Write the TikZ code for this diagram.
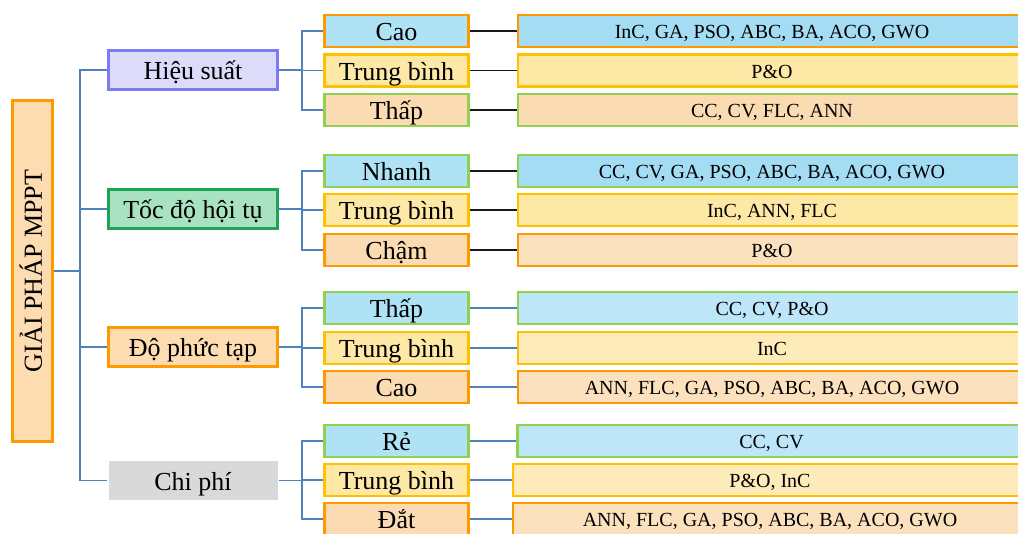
\documentclass[tikz,border=0pt]{standalone}
\usepackage{fontspec}
\setmainfont{Liberation Serif}
\definecolor{cblue}{HTML}{4F81BD}
\definecolor{lavfill}{HTML}{DCDCFA}
\definecolor{lavline}{HTML}{7B7BF5}
\definecolor{grnfill}{HTML}{A8E2C1}
\definecolor{grnline}{HTML}{1EA45A}
\definecolor{rootfill}{HTML}{FCDCB0}
\definecolor{orng}{HTML}{FF9900}
\definecolor{greyfill}{HTML}{D9D9D9}
\definecolor{blueA}{HTML}{B0E2F6}
\definecolor{blueB}{HTML}{A4DCF4}
\definecolor{blueC}{HTML}{BDE7F8}
\definecolor{yelA}{HTML}{FDE8A6}
\definecolor{yelB}{HTML}{FEEBBA}
\definecolor{peachA}{HTML}{FBDBB2}
\definecolor{peachB}{HTML}{FCE1BF}
\definecolor{gold}{HTML}{FFC000}
\definecolor{lgreen}{HTML}{92D050}
\begin{document}
\begin{tikzpicture}[x=0.75pt,y=-0.75pt,
  box/.style={rectangle, inner sep=0pt, align=center},
  rootbox/.style={box, line width=2.2pt, draw=orng, fill=rootfill,
    minimum width=30pt, minimum height=255.75pt},
  lone/.style={box, line width=2.2pt, minimum width=126.75pt, minimum height=29.25pt,
    font=\fontsize{19.5}{22}\selectfont, text height=14.5pt, text depth=0pt},
  ltwo/.style={box, line width=2pt, minimum width=108pt, minimum height=24pt,
    font=\fontsize{19.5}{22}\selectfont, text height=14.5pt, text depth=0pt},
  lthree/.style={box, line width=2pt, minimum width=381pt, minimum height=24pt,
    font=\fontsize{15}{18}\selectfont, text height=11.4pt, text depth=0pt},
  lthreew/.style={lthree, minimum width=385.5pt},
  bo/.style={fill=blueA, draw=orng},
  bg/.style={fill=blueA, draw=lgreen},
  yg/.style={fill=yelA, draw=gold},
  pg/.style={fill=peachA, draw=lgreen},
  po/.style={fill=peachA, draw=orng},
  conn/.style={draw=cblue, line width=1.1pt},
  blk/.style={draw=black!90, line width=1.1pt}]
\useasboundingbox (0,0) rectangle (1018,533);

% root
\node[rootbox] (root) at (32.5,271) {};
\node[rotate=90, font=\fontsize{19.5}{22}\selectfont, text height=14pt, text depth=0pt, inner sep=0pt]
  (roottext) at (root.center) {GIẢI PHÁP MPPT};

% first level
\node[lone, fill=lavfill, draw=lavline] (hs) at (193,70) {Hiệu suất};
\node[lone, fill=grnfill, draw=grnline] (td) at (193,209) {Tốc độ hội tụ};
\node[lone, fill=rootfill, draw=orng] (dp) at (193,347) {Độ phức tạp};
\node[lone, fill=greyfill] (cp) at (193,480.5) {Chi phí};

% second level
\node[ltwo, bo] (c11) at (396.5,31) {Cao};
\node[ltwo, yg] (c12) at (396.5,70.5) {Trung bình};
\node[ltwo, pg] (c13) at (396.5,110) {Thấp};
\node[ltwo, bg] (c21) at (396.5,171) {Nhanh};
\node[ltwo, yg] (c22) at (396.5,210) {Trung bình};
\node[ltwo, po] (c23) at (396.5,250) {Chậm};
\node[ltwo, bg] (c31) at (396.5,308) {Thấp};
\node[ltwo, yg] (c32) at (396.5,348) {Trung bình};
\node[ltwo, po] (c33) at (396.5,387) {Cao};
\node[ltwo, bg] (c41) at (396.5,441) {Rẻ};
\node[ltwo, yg] (c42) at (396.5,480) {Trung bình};
\node[ltwo, po] (c43) at (396.5,519) {Đắt};

% third level
\node[lthree, fill=blueB, draw=orng] (r11) at (772,31) {InC, GA, PSO, ABC, BA, ACO, GWO};
\node[lthree, fill=yelA, draw=gold] (r12) at (772,70.5) {P\&O};
\node[lthree, fill=peachA, draw=lgreen] (r13) at (772,110) {CC, CV, FLC, ANN};
\node[lthree, fill=blueB, draw=lgreen] (r21) at (772,171) {CC, CV, GA, PSO, ABC, BA, ACO, GWO};
\node[lthree, fill=yelA, draw=gold] (r22) at (772,210) {InC, ANN, FLC};
\node[lthree, fill=peachB, draw=orng] (r23) at (772,250) {P\&O};
\node[lthree, fill=blueC, draw=lgreen] (r31) at (772,308) {CC, CV, P\&O};
\node[lthree, fill=yelB, draw=gold] (r32) at (772,348) {InC};
\node[lthree, fill=peachB, draw=orng] (r33) at (772,387) {ANN, FLC, GA, PSO, ABC, BA, ACO, GWO};
\node[lthree, fill=blueC, draw=lgreen] (r41) at (771.5,441) {CC, CV};
\node[lthreew, fill=yelB, draw=gold] (r42) at (770,480) {P\&O, InC};
\node[lthreew, fill=peachB, draw=orng] (r43) at (770,519) {ANN, FLC, GA, PSO, ABC, BA, ACO, GWO};

% root to first level
\foreach \n in {hs,td,dp,cp}
  \draw[conn] (root.east) -- ++(26,0) |- (\n.west);

% first level to second level
\foreach \p/\a/\b/\c in {hs/c11/c12/c13, td/c21/c22/c23, dp/c31/c32/c33, cp/c41/c42/c43}{
  \draw[conn] (\p.east) -- ++(23,0) |- (\a.west);
  \draw[conn] (\p.east) -- ++(23,0) |- (\b.west);
  \draw[conn] (\p.east) -- ++(23,0) |- (\c.west);
}

% second level to third level
\foreach \a/\b in {c11/r11, c12/r12, c13/r13, c21/r21, c22/r22, c23/r23}
  \draw[blk] (\a.east) -- (\b.west);
\foreach \a/\b in {c31/r31, c32/r32, c33/r33, c41/r41, c42/r42, c43/r43}
  \draw[conn] (\a.east) -- (\b.west);
\end{tikzpicture}
\end{document}
